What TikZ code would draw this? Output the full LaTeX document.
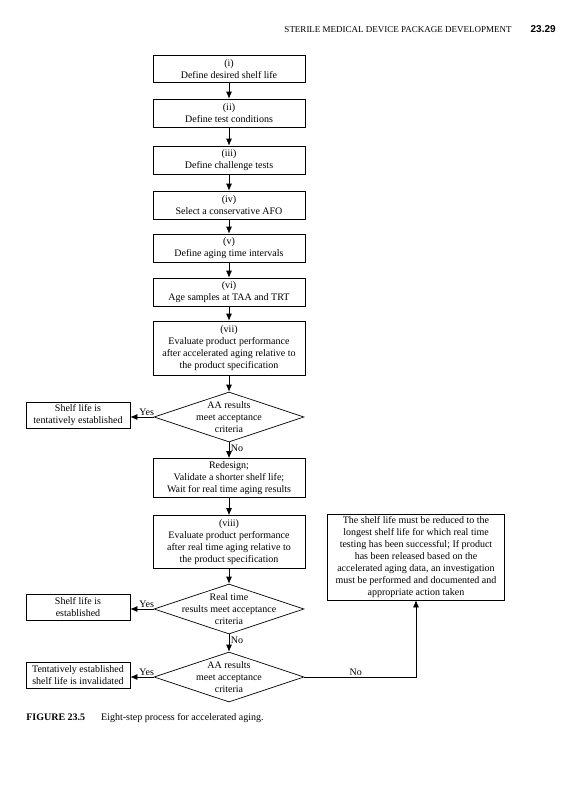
\documentclass[tikz,border=0pt]{standalone}
\usepackage{fontspec}
\setmainfont{Liberation Serif}
\setsansfont{Liberation Sans}
\usetikzlibrary{shapes.geometric,arrows.meta}
\begin{document}
\begin{tikzpicture}[x=1pt,y=-1pt,
  font=\fontsize{10}{12}\selectfont,
  line width=0.7pt,
  box/.style={draw, minimum width=152pt, align=center, inner sep=2pt},
  sidebox/.style={draw, minimum width=104pt, align=center, inner sep=2pt, minimum height=26pt},
  dia/.style={draw, diamond, minimum width=150pt, minimum height=50pt, inner sep=0pt},
  diatext/.style={align=center, inner sep=0pt},
  arr/.style={-{Latex[length=7pt,width=6pt]}},
  lbl/.style={inner sep=1.5pt, font=\fontsize{10}{12}\selectfont}
]
\useasboundingbox (0,0) rectangle (581,800);

% header
\node[anchor=base east, inner sep=0pt] (hdr) at (512,33) {\fontsize{9}{11}\selectfont STERILE MEDICAL DEVICE PACKAGE DEVELOPMENT};
\node[anchor=base east, inner sep=0pt] (pg) at (556,33) {\fontsize{10}{12}\sffamily\bfseries 23.29};

% main column
\node[box, minimum height=27pt] (b1) at (229,69) {(i)\\Define desired shelf life};
\node[box, minimum height=28pt] (b2) at (229,113) {(ii)\\Define test conditions};
\node[box, minimum height=28pt] (b3) at (229,160) {(iii)\\Define challenge tests};
\node[box, minimum height=28pt] (b4) at (229,205) {(iv)\\Select a conservative AFO};
\node[box, minimum height=28pt] (b5) at (229,248) {(v)\\Define aging time intervals};
\node[box, minimum height=28pt] (b6) at (229,292) {(vi)\\Age samples at TAA and TRT};
\node[box, minimum height=54pt] (b7) at (229,348) {(vii)\\Evaluate product performance\\after accelerated aging relative to\\the product specification};

\node[dia] (d1) at (229,417) {};
\node[diatext] (d1t) at (229,417) {AA results\\meet acceptance\\criteria};
\node[sidebox] (s1) at (78,415) {Shelf life is\\tentatively established};

\node[box, minimum height=39pt] (rd) at (229,478) {Redesign;\\Validate a shorter shelf life;\\Wait for real time aging results};
\node[box, minimum height=53pt] (b8) at (229,542) {(viii)\\Evaluate product performance\\after real time aging relative to\\the product specification};

\node[dia] (d2) at (229,609) {};
\node[diatext] (d2t) at (229,609) {Real time\\results meet acceptance\\criteria};
\node[sidebox] (s2) at (78,607) {Shelf life is\\established};

\node[dia] (d3) at (229,677) {};
\node[diatext] (d3t) at (229,677) {AA results\\meet acceptance\\criteria};
\node[sidebox] (s3) at (78,675) {Tentatively established\\shelf life is invalidated};

\node[draw, align=center, inner sep=2pt, minimum width=177pt, minimum height=86pt] (rb) at (416,557)
 {The shelf life must be reduced to the\\longest shelf life for which real time\\testing has been successful; If product\\has been released based on the\\accelerated aging data, an investigation\\must be performed and documented and\\appropriate action taken};

% caption
\node[anchor=base west, inner sep=0pt] (cap) at (26,720) {\fontsize{10}{12}\selectfont\textbf{FIGURE 23.5}\hspace{1.6em}Eight-step process for accelerated aging.};

% connectors
\draw[arr] (b1) -- (b2);
\draw[arr] (b2) -- (b3);
\draw[arr] (b3) -- (b4);
\draw[arr] (b4) -- (b5);
\draw[arr] (b5) -- (b6);
\draw[arr] (b6) -- (b7);
\draw[arr] (b7) -- (d1.north);
\draw[arr] (d1.west) -- node[lbl, pos=0.3, above] {Yes} (d1.west -| s1.east);
\draw[arr] (d1.south) -- node[lbl, pos=0.35, right] {No} (rd);
\draw[arr] (rd) -- (b8);
\draw[arr] (b8) -- (d2.north);
\draw[arr] (d2.west) -- node[lbl, pos=0.3, above] {Yes} (d2.west -| s2.east);
\draw[arr] (d2.south) -- node[lbl, pos=0.35, right] {No} (d3.north);
\draw[arr] (d3.west) -- node[lbl, pos=0.3, above] {Yes} (d3.west -| s3.east);
\draw[arr] (d3.east) -- node[lbl, pos=0.46, above] {No} (d3.east -| rb.south) -- (rb.south);
\end{tikzpicture}
\end{document}
